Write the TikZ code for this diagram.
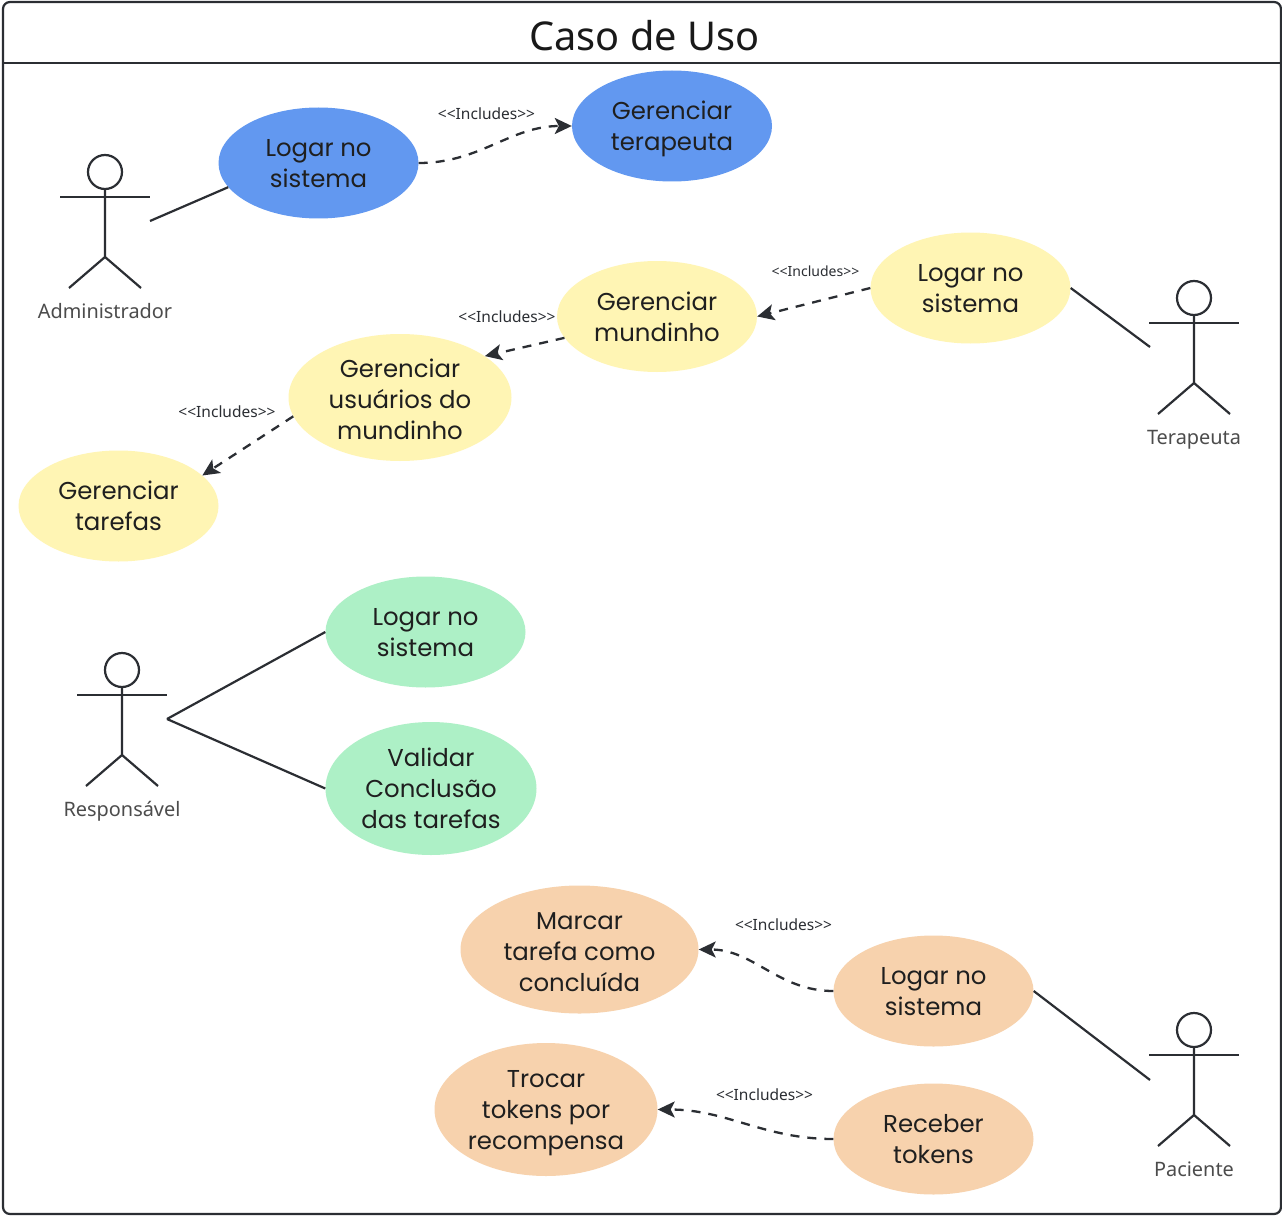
\documentclass[tikz,border=0pt]{standalone}
\usepackage{fontspec}
\setmainfont{Noto Sans}
\newfontfamily\ucfont{Poppins}
\usetikzlibrary{shapes.geometric,arrows.meta}
\definecolor{ink}{HTML}{2B2E33}
\definecolor{ublue}{HTML}{6298F0}
\definecolor{uyellow}{HTML}{FFF5B4}
\definecolor{ugreen}{HTML}{ADF0C6}
\definecolor{uorange}{HTML}{F7D2AD}
\tikzset{
  usecase/.style={ellipse,inner sep=0pt,minimum width=200pt,minimum height=111pt,align=center,text=black!88,text depth=0pt,
    font=\ucfont\fontsize{24.4}{31}\selectfont},
  wline/.style={draw=ink,line width=2.2pt},
  incl/.style={draw=ink,line width=2.3pt,dash pattern=on 9pt off 8pt,-{Stealth[length=17pt,width=16pt,inset=4pt]}},
  inclabel/.style={font=\fontsize{15.5}{17}\selectfont,text=ink,inner sep=0pt},
  smalllabel/.style={font=\fontsize{14}{16}\selectfont},
  actorlabel/.style={font=\fontsize{19.9}{22}\selectfont,text=black!70,inner sep=0pt,anchor=base},
}
\newcommand{\inclabeltext}{<{}<Includes>{}>}
\newcommand{\lowerstrut}{\rule{0pt}{21pt}}
\newcommand{\actorfig}[3]{%
  \draw[wline] (#1,#2-25) circle[x radius=17pt,y radius=17pt];
  \draw[wline] (#1-45,#2) -- (#1+45,#2);
  \draw[wline] (#1,#2-8) -- (#1,#2+60) -- (#1-36,#2+91);
  \draw[wline] (#1,#2+60) -- (#1+36,#2+91);
  \node[actorlabel] (#3) at (#1,#2+121) {#3};
}
\begin{document}
\begin{tikzpicture}[x=1pt,y=-1pt]
\useasboundingbox (0,0) rectangle (1282,1217);
\fill[white] (0,0) rectangle (1282,1217);
\draw[wline,rounded corners=7pt] (3,2) rectangle (1281,1214);
\coordinate (hl) at (3,63);
\coordinate (hr) at (1281,63);
\draw[wline] (hl) -- (hr);
\node[font=\fontsize{39.7}{44}\selectfont,text=black!90,inner sep=0pt] (title) at (644.5,36) {Caso de Uso};

% actors
\actorfig{105}{197}{Administrador}
\actorfig{1194}{323}{Terapeuta}
\actorfig{122}{695}{Responsável}
\actorfig{1194}{1055}{Paciente}

% administrador
\node[usecase,fill=ublue] (a1) at (318.5,163) {Logar no\\sistema};
\node[usecase,fill=ublue] (a2) at (672,126) {Gerenciar\\terapeuta};
\coordinate (aa) at (150,221);
\draw[wline] (aa) -- (a1.195);
\draw[incl] (a1.east) to[out=0,in=180] (a2.west);
\node[inclabel] (l1) at (486.5,114) {\inclabeltext};

% terapeuta
\node[usecase,fill=uyellow] (t1) at (970.5,288) {Logar no\\sistema};
\node[usecase,fill=uyellow] (t2) at (657,316.5) {Gerenciar\\mundinho};
\node[usecase,fill=uyellow,minimum width=223pt,minimum height=127pt] (t3) at (400,397.5) {\lowerstrut Gerenciar\\usuários do\\mundinho};
\node[usecase,fill=uyellow] (t4) at (118.5,506) {Gerenciar\\tarefas};
\coordinate (ta) at (1150,347);
\draw[wline] (ta) -- (t1.east);
\draw[incl] (t1.west) -- (t2.east);
\draw[incl] (t2.193) -- (t3.26);
\draw[incl] (t3.190) -- (t4.20);
\node[inclabel,smalllabel] (l2) at (815.5,271) {\inclabeltext};
\node[inclabel] (l3) at (507,316.5) {\inclabeltext};
\node[inclabel] (l4) at (227,411.5) {\inclabeltext};

% responsavel
\node[usecase,fill=ugreen] (r1) at (425.5,632) {Logar no\\sistema};
\node[usecase,fill=ugreen,minimum width=211pt,minimum height=133pt] (r2) at (431,788.5) {Validar\\Conclusão\\das tarefas};
\coordinate (ra) at (167,719);
\draw[wline] (ra) -- (r1.west);
\draw[wline] (ra) -- (r2.west);

% paciente
\node[usecase,fill=uorange,minimum width=238pt,minimum height=128pt] (p1) at (579.5,949.5) {\lowerstrut Marcar\\tarefa como\\concluída};
\node[usecase,fill=uorange] (p2) at (933.5,991) {Logar no\\sistema};
\node[usecase,fill=uorange,minimum width=223pt,minimum height=133pt] (p3) at (546,1109.5) {Trocar\\tokens por\\recompensa};
\node[usecase,fill=uorange] (p4) at (933.5,1139) {Receber\\tokens};
\coordinate (pa) at (1150,1080);
\draw[wline] (pa) -- (p2.east);
\draw[incl] (p2.west) to[out=180,in=0] (p1.east);
\draw[incl] (p4.west) to[out=180,in=0] (p3.east);
\node[inclabel] (l5) at (783.5,925) {\inclabeltext};
\node[inclabel] (l6) at (764.5,1095) {\inclabeltext};
\end{tikzpicture}
\end{document}
